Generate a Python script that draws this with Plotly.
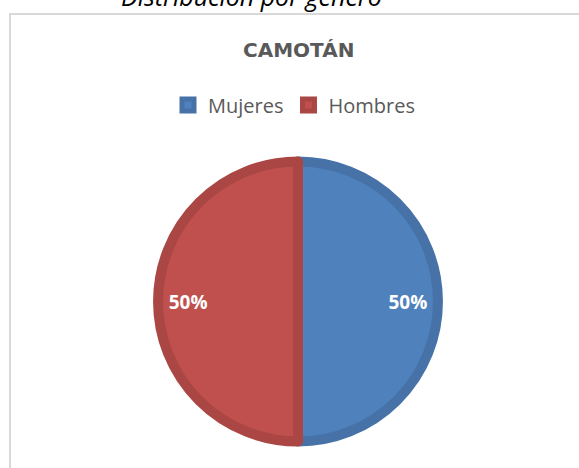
import plotly.graph_objects as go

categories = ["Mujeres", "Hombres"]
values = [50, 50]
fill_colors = ["#4F81BD", "#C0504D"]
edge_colors = ["#4672A8", "#AA4643"]

W, H = 579, 468
cx, cy, r = 298, 301.5, 140
dom = dict(x=[(cx - r) / W, (cx + r) / W], y=[(H - cy - r) / H, (H - cy + r) / H])

fig = go.Figure()
fig.add_trace(go.Pie(
    labels=categories,
    values=values,
    sort=False,
    direction="clockwise",
    rotation=0,
    marker=dict(colors=fill_colors, line=dict(color=edge_colors, width=10)),
    textinfo="none",
    hoverinfo="label+percent",
    domain=dom,
))
# label layer (transparent ring so the labels sit at the Excel-like radius)
fig.add_trace(go.Pie(
    labels=categories,
    values=values,
    sort=False,
    direction="clockwise",
    rotation=0,
    hole=0.57,
    marker=dict(colors=["rgba(0,0,0,0)"] * 2, line=dict(width=0)),
    texttemplate="%{percent:.0%}",
    textposition="inside",
    insidetextorientation="horizontal",
    textfont=dict(family="Open Sans", size=19, color="white", weight="bold"),
    hoverinfo="skip",
    showlegend=False,
    domain=dom,
))

fig.update_layout(
    width=W, height=H,
    margin=dict(l=0, r=0, t=0, b=0),
    paper_bgcolor="white",
    plot_bgcolor="white",
    showlegend=True,
    legend=dict(
        orientation="h",
        x=168 / W, xanchor="left",
        y=1 - 105 / H, yanchor="middle",
        font=dict(family="Open Sans", size=20, color="#595959"),
        itemclick=False,
    ),
    shapes=[dict(
        type="rect", xref="paper", yref="paper",
        x0=10 / W, x1=1.05, y0=-0.05, y1=1 - 14 / H,
        line=dict(color="#D9D9D9", width=2),
        fillcolor="rgba(0,0,0,0)", layer="below",
    )],
    annotations=[
        dict(text="Distribución por género", xref="paper", yref="paper",
             x=251 / W, y=1 - 15 / H, xanchor="center", yanchor="bottom",
             showarrow=False,
             font=dict(family="Open Sans", size=25, color="black", style="italic")),
        dict(text="<b>CAMOTÁN</b>", xref="paper", yref="paper",
             x=298 / W, y=1 - 50 / H, xanchor="center", yanchor="middle",
             showarrow=False,
             font=dict(family="DejaVu Sans", size=20, color="#595959")),
    ],
)

fig.write_html("out.html", config={"displayModeBar": False},
               post_script="document.body.style.margin='0';")
